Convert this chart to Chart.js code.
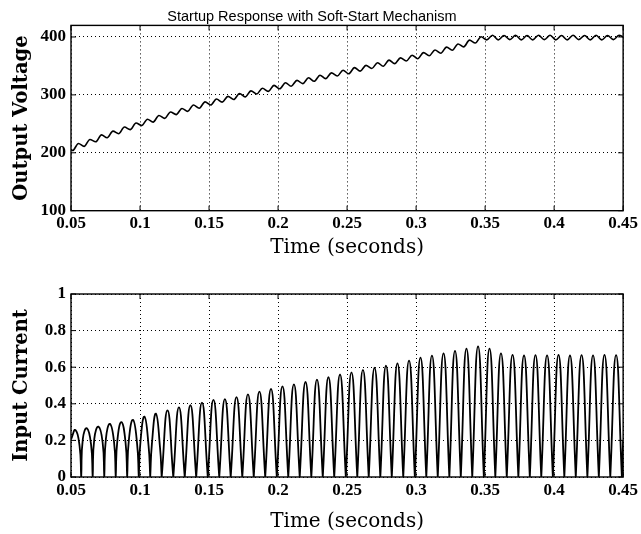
<!DOCTYPE html>
<html>
<head>
<meta charset="utf-8">
<title>Startup Response with Soft-Start Mechanism</title>
<script src="https://cdn.jsdelivr.net/npm/chart.js@4.4.1/dist/chart.umd.min.js"></script>
<style>
  body { margin: 0; background: #fff; }
  .painel { position: absolute; left: 0; width: 641px; height: 267px; }
</style>
</head>
<body>
<div class="painel" style="top:0"><canvas id="graficoTensao" width="641" height="267"></canvas></div>
<div class="painel" style="top:267px"><canvas id="graficoCorrente" width="641" height="267"></canvas></div>
<script>
// eixos
const timeTicks = [0.05, 0.1, 0.15, 0.2, 0.25, 0.3, 0.35, 0.4, 0.45];
const voltTicks = [100, 200, 300, 400];
const currentTicks = [0, 0.2, 0.4, 0.6, 0.8, 1];

// tensao de saida: picos e vales do ripple
const voltTime = [0.05,
  0.0512, 0.0554, 0.0595, 0.0637, 0.0679, 0.0721, 0.0762, 0.0804, 0.0845, 0.0887, 0.0929, 0.0971,
  0.1012, 0.1054, 0.1095, 0.1137, 0.1179, 0.1221, 0.1262, 0.1304, 0.1345, 0.1387, 0.1429, 0.1471,
  0.1512, 0.1554, 0.1595, 0.1637, 0.1679, 0.1721, 0.1762, 0.1804, 0.1845, 0.1887, 0.1929, 0.1971,
  0.2012, 0.2054, 0.2095, 0.2137, 0.2179, 0.2221, 0.2262, 0.2304, 0.2345, 0.2387, 0.2429, 0.2471,
  0.2512, 0.2554, 0.2595, 0.2637, 0.2679, 0.2721, 0.2762, 0.2804, 0.2845, 0.2887, 0.2929, 0.2971,
  0.3012, 0.3054, 0.3095, 0.3137, 0.3179, 0.3221, 0.3262, 0.3304, 0.3345, 0.3387, 0.3429, 0.3471,
  0.3512, 0.3554, 0.3595, 0.3637, 0.3679, 0.3721, 0.3762, 0.3804, 0.3845, 0.3887, 0.3929, 0.3971,
  0.4012, 0.4054, 0.4095, 0.4137, 0.4179, 0.4221, 0.4262, 0.4304, 0.4345, 0.4387, 0.4429, 0.4471,
  0.45];
const voltValue = [206,
  204, 216, 211, 223, 219, 231, 226, 237.5, 233, 244.5, 240, 251.5,
  247, 258, 253, 264.5, 259.5, 270.5, 266, 276.5, 271.5, 282.5, 277, 288,
  282.5, 293, 287.5, 297.5, 292, 302.5, 296.5, 307, 301.5, 311.5, 306, 316.5,
  310.5, 321, 315, 325, 319.5, 329.5, 323.5, 334, 328, 338, 332.5, 342.5,
  336.5, 347, 341, 351, 345.5, 355.5, 349.5, 360, 354, 364, 358.5, 368.5,
  362.5, 373, 367.5, 377.5, 372, 382.5, 377, 388, 383, 394.5, 389.5, 400.5,
  395, 403, 395, 402.5, 395.5, 403, 395, 402.5, 395, 403, 395.5, 403,
  395, 402.5, 395, 403, 395.5, 402.5, 395, 403, 395, 402.5, 395.5, 403,
  400];

// corrente de entrada: um pulso por semiciclo
const pulsePeakTime = [
  0.0532, 0.0615, 0.0699, 0.0782, 0.0865, 0.0949, 0.1032, 0.1115, 0.1199, 0.1282, 0.1365, 0.1449,
  0.1532, 0.1615, 0.1699, 0.1782, 0.1865, 0.1949, 0.2032, 0.2115, 0.2199, 0.2282, 0.2365, 0.2449,
  0.2532, 0.2615, 0.2699, 0.2782, 0.2865, 0.2949, 0.3032, 0.3115, 0.3199, 0.3282, 0.3365, 0.3449,
  0.3532, 0.3615, 0.3699, 0.3782, 0.3865, 0.3949, 0.4032, 0.4115, 0.4199, 0.4282, 0.4365, 0.4449];
const pulsePeak = [
  0.257, 0.266, 0.275, 0.290, 0.300, 0.312, 0.330, 0.346, 0.364, 0.380, 0.392, 0.406,
  0.421, 0.426, 0.436, 0.452, 0.466, 0.481, 0.495, 0.506, 0.519, 0.532, 0.545, 0.560,
  0.572, 0.585, 0.597, 0.608, 0.621, 0.636, 0.652, 0.663, 0.676, 0.689, 0.701, 0.714,
  0.701, 0.676, 0.667, 0.664, 0.666, 0.665, 0.667, 0.664, 0.666, 0.665, 0.667, 0.666];
const pulseZeroTime = [
  0.0574, 0.0657, 0.0741, 0.0824, 0.0907, 0.0991, 0.1074, 0.1157, 0.1241, 0.1324, 0.1407, 0.1491,
  0.1574, 0.1657, 0.1741, 0.1824, 0.1907, 0.1991, 0.2074, 0.2157, 0.2241, 0.2324, 0.2407, 0.2491,
  0.2574, 0.2657, 0.2741, 0.2824, 0.2907, 0.2991, 0.3074, 0.3157, 0.3241, 0.3324, 0.3407, 0.3491,
  0.3574, 0.3657, 0.3741, 0.3824, 0.3907, 0.3991, 0.4074, 0.4157, 0.4241, 0.4324, 0.4407, 0.4491];
// ombros dos primeiros pulsos (mais achatados)
const shoulderTime = [0.0562, 0.0586, 0.0645, 0.0669, 0.0729, 0.0753, 0.0812, 0.0836, 0.0895,
  0.0919, 0.0979, 0.1003, 0.1062, 0.1086, 0.1145];
const shoulderValue = [0.17, 0.21, 0.18, 0.21, 0.19, 0.21, 0.19, 0.20, 0.19,
  0.20, 0.18, 0.19, 0.17, 0.18, 0.16];
const edgeTime = [0.05, 0.45];
const edgeValue = [0.205, 0.2];

const serifTicks = { family: '"Liberation Serif", "Times New Roman", serif', size: 17, weight: 'bold' };
const serifTitle = { family: '"DejaVu Serif", serif', size: 20 };
const serifYTitle = { family: '"DejaVu Serif", serif', size: 19.5, weight: 'bold' };

// moldura fechada com marquinhas para dentro, como no matlab
const moldura = {
  id: 'moldura',
  afterDatasetsDraw(chart) {
    const { ctx, chartArea: a, scales } = chart;
    ctx.save();
    ctx.strokeStyle = '#000';
    ctx.lineWidth = 1.4;
    ctx.strokeRect(a.left, a.top, a.right - a.left, a.bottom - a.top);
    ctx.lineWidth = 1;
    ctx.beginPath();
    scales.x.ticks.forEach(t => {
      const px = scales.x.getPixelForValue(t.value);
      ctx.moveTo(px, a.bottom); ctx.lineTo(px, a.bottom - 5);
      ctx.moveTo(px, a.top); ctx.lineTo(px, a.top + 5);
    });
    scales.y.ticks.forEach(t => {
      const py = scales.y.getPixelForValue(t.value);
      ctx.moveTo(a.left, py); ctx.lineTo(a.left + 5, py);
      ctx.moveTo(a.right, py); ctx.lineTo(a.right - 5, py);
    });
    ctx.stroke();
    ctx.restore();
  }
};

function eixoX(tituloPadding, alturaEixo) {
  return {
    type: 'linear',
    min: 0.05,
    max: 0.45,
    afterBuildTicks: scale => { scale.ticks = timeTicks.map(v => ({ value: v })); },
    afterFit: scale => { scale.height = alturaEixo; },
    ticks: { color: '#000', font: serifTicks, padding: 3, maxRotation: 0, autoSkip: false, callback: v => String(v) },
    grid: { color: '#000', lineWidth: 1, drawTicks: false },
    border: { display: false, dash: [1, 3] },
    title: { display: true, text: 'Time (seconds)', color: '#000', font: serifTitle, padding: { top: 0, bottom: tituloPadding } }
  };
}

function eixoY(titulo, min, max, valores) {
  return {
    min: min,
    max: max,
    afterBuildTicks: scale => { scale.ticks = valores.map(v => ({ value: v })); },
    afterFit: scale => { scale.width = 71; },
    ticks: { color: '#000', font: serifTicks, padding: 5, autoSkip: false, callback: v => String(v) },
    grid: { color: '#000', lineWidth: 1, drawTicks: false },
    border: { display: false, dash: [1, 3] },
    title: { display: true, text: titulo, color: '#000', font: serifYTitle, padding: { top: 10, bottom: 0 } }
  };
}

new Chart(document.getElementById('graficoTensao'), {
  type: 'line',
  data: {
    datasets: [{
      data: voltTime.map((t, i) => ({ x: t, y: voltValue[i] })),
      borderColor: '#000',
      borderWidth: 1.6,
      pointRadius: 0,
      cubicInterpolationMode: 'monotone',
      fill: false
    }]
  },
  options: {
    responsive: false,
    animation: false,
    layout: { padding: { left: 0, right: 17, top: 0, bottom: 0 } },
    plugins: {
      legend: { display: false },
      tooltip: { enabled: false },
      title: {
        display: true,
        text: 'Startup Response with Soft-Start Mechanism',
        color: '#000',
        font: { family: '"Liberation Sans", Arial, sans-serif', size: 14.5, weight: 'normal' },
        padding: { top: 8, bottom: 0 }
      }
    },
    scales: {
      x: eixoX(7, 56.3),
      y: eixoY('Output Voltage', 100, 420, voltTicks)
    }
  },
  plugins: [moldura]
});

// monta os pontos da corrente; zeros duplicados deixam o bico em V
const pontosCorrente = [];
edgeTime.forEach((t, i) => pontosCorrente.push({ x: t, y: edgeValue[i] }));
pulsePeakTime.forEach((t, i) => pontosCorrente.push({ x: t, y: pulsePeak[i] }));
shoulderTime.forEach((t, i) => pontosCorrente.push({ x: t, y: shoulderValue[i] }));
pulseZeroTime.forEach(t => {
  pontosCorrente.push({ x: t, y: 0 });
  pontosCorrente.push({ x: t, y: 0 });
});
pontosCorrente.sort((a, b) => a.x - b.x);

new Chart(document.getElementById('graficoCorrente'), {
  type: 'line',
  data: {
    datasets: [{
      data: pontosCorrente,
      borderColor: '#000',
      borderWidth: 1.8,
      pointRadius: 0,
      tension: 0.5,
      fill: false
    }]
  },
  options: {
    responsive: false,
    animation: false,
    layout: { padding: { left: 0, right: 17, top: 27, bottom: 0 } },
    plugins: {
      legend: { display: false },
      tooltip: { enabled: false }
    },
    scales: {
      x: eixoX(0, 57),
      y: eixoY('Input Current', 0, 1, currentTicks)
    }
  },
  plugins: [moldura]
});
</script>
</body>
</html>
